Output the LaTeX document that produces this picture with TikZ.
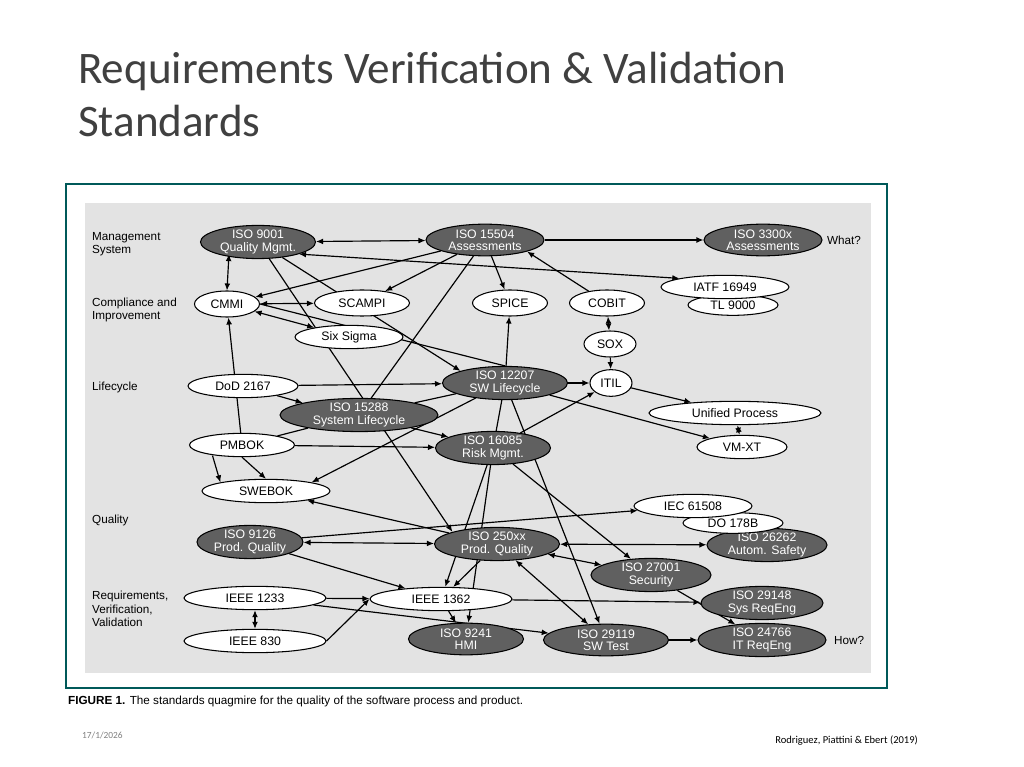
\documentclass[tikz,border=0pt]{standalone}
\usepackage{fontspec}
\setmainfont{Carlito}
\newfontfamily\arialf{Liberation Sans}
\usetikzlibrary{shapes.geometric,arrows.meta,backgrounds}
\begin{document}
\begin{tikzpicture}[x=0.03cm,y=-0.03cm,
 std/.style={ellipse,draw=black,line width=0.9pt,inner sep=0pt,font=\arialf\fontsize{10.5}{10.5}\selectfont,align=center,text=black},
 wd/.style={minimum width=#1*0.03cm},
 wn/.style={std,fill=white,minimum height=0.7cm},
 dn/.style={std,fill=gray!75!black,minimum height=0.95cm,text=white},
 ed/.style={line width=1pt,-{Latex[length=6pt,width=5pt]}},
 bd/.style={line width=1pt,{Latex[length=6pt,width=5pt]}-{Latex[length=6pt,width=5pt]}},
 pl/.style={line width=1pt},
 lab/.style={font=\arialf\fontsize{10}{11.5}\selectfont,align=left,anchor=west}]
\useasboundingbox (0,0) rectangle (1024,767);
\node[anchor=north west,font=\fontsize{38.5}{45}\selectfont,text=black!75,align=left] (title) at (74,48) {Requirements Verification \& Validation\\Standards};
\node[anchor=west,font=\arialf\fontsize{10}{11}\selectfont] (cap) at (64,701) {\textbf{FIGURE 1.} The standards quagmire for the quality of the software process and product.};
\node[anchor=west,font=\fontsize{8}{9}\selectfont,text=gray] (date) at (78,735) {17/1/2026};
\node[anchor=east,font=\fontsize{9}{10}\selectfont] (ref) at (922,741) {Rodriguez, Piattini \& Ebert (2019)};
\node[lab] (l1) at (88,244) {Management\\System};
\node[lab] (l2) at (88,310) {Compliance and\\Improvement};
\node[lab] (l3) at (88,387) {Lifecycle};
\node[lab] (l4) at (88,520) {Quality};
\node[lab] (l5) at (88,609) {Requirements,\\Verification,\\Validation};
\node[lab] (what) at (823,240) {What?};
\node[lab] (how) at (830,640) {How?};
% nodes
\node[dn,wd=115] (a9001) at (258,242) {ISO 9001\\Quality Mgmt.};
\node[dn,wd=118] (a15504) at (485,240) {ISO 15504\\Assessments};
\node[dn,wd=118] (a3300) at (763,240) {ISO 3300x\\Assessments};
\node[wn,wd=90,minimum height=0.62cm] (tl) at (733,305) {TL 9000};
\node[wn,wd=128] (iatf) at (725,287) {IATF 16949};
\node[wn,wd=65,minimum height=0.78cm] (cmmi) at (227,304) {CMMI};
\node[wn,wd=95,minimum height=0.78cm] (scampi) at (362,303) {SCAMPI};
\node[wn,wd=75,minimum height=0.78cm] (spice) at (510,303) {SPICE};
\node[wn,wd=75,minimum height=0.78cm] (cobit) at (607,303) {COBIT};
\node[wn,wd=108] (six) at (349,337) {Six Sigma};
\node[wn,wd=52,minimum height=0.78cm] (sox) at (610,344) {SOX};
\node[wn,wd=42,minimum height=0.8cm] (itil) at (611,383) {ITIL};
\node[wn,wd=110] (dod) at (243,386) {DoD 2167};
\node[dn,wd=125] (a12207) at (505,383) {ISO 12207\\SW Lifecycle};
\node[dn,wd=158,minimum height=0.8cm] (a15288) at (359,415) {ISO 15288\\System Lifecycle};
\node[wn,wd=172] (up) at (735,413) {Unified Process};
\node[wn,wd=90] (vm) at (742,447) {VM-XT};
\node[wn,wd=105] (pmbok) at (242,445) {PMBOK};
\node[dn,wd=115] (a16085) at (493,448) {ISO 16085\\Risk Mgmt.};
\node[wn,wd=128] (swebok) at (266,491) {SWEBOK};
\node[dn,wd=120] (a26262) at (767,545) {ISO 26262\\Autom. Safety};
\node[wn,wd=100,minimum height=0.62cm] (do) at (733,523) {DO 178B};
\node[wn,wd=118] (iec) at (693,506) {IEC 61508};
\node[dn,wd=106] (a9126) at (250,542) {ISO 9126\\Prod. Quality};
\node[dn,wd=125] (a250) at (497,544) {ISO 250xx\\Prod. Quality};
\node[dn,wd=120] (a27001) at (651,575) {ISO 27001\\Security};
\node[wn,wd=142] (i1233) at (255,598) {IEEE 1233};
\node[wn,wd=142] (i1362) at (441,599) {IEEE 1362};
\node[dn,wd=122] (a29148) at (762,603) {ISO 29148\\Sys ReqEng};
\node[wn,wd=142] (i830) at (255,641) {IEEE 830};
\node[dn,wd=115] (a9241) at (466,639) {ISO 9241\\HMI};
\node[dn,wd=125] (a29119) at (606,640) {ISO 29119\\SW Test};
\node[dn,wd=128] (a24766) at (762,640) {ISO 24766\\IT ReqEng};
\begin{pgfonlayer}{background}
\fill[white] (0,0) rectangle (1024,767);
\draw[draw=teal!70!black,line width=1pt] (66,184) rectangle (887,688);
\fill[gray!22] (85,203) rectangle (871,673);
\draw[bd] (a9001) -- (a15504);
\draw[ed] (a15504) -- (a3300);
\draw[bd] (a9001.south west) ++(12,0) -- (cmmi.north);
\draw[bd] (a9001.south east) -- (iatf.north west);
\draw[ed] (a15504) -- (cmmi);
\draw[ed] (a15504) -- (scampi);
\draw[ed] (a15504) -- (spice);
\draw[ed] (cobit) -- (a15504.south east);
\draw[pl] (a15504) -- (a15288);
\draw[bd] (cmmi) -- (scampi);
\draw[bd] (cmmi) -- (six);
\draw[pl] (cmmi.east) -- (a12207.north);
\draw[ed] (a9001) -- (a12207.north west);
\draw[ed] (a9001) -- (a250.north west);
\draw[ed] (pmbok) -- (cmmi);
\draw[ed] (dod) -- (a12207);
\draw[ed] (dod) -- (a15288.north west);
\draw[pl] (a15288) -- (a12207);
\draw[ed] (a15288) -- (a16085);
\draw[pl] (pmbok) -- (a15288);
\draw[ed] (pmbok) -- (a16085);
\draw[ed] (pmbok.south west) ++(8,2) -- (swebok.north west);
\draw[ed] (pmbok.south) -- (swebok.north);
\draw[ed] (a12207) -- (swebok.north east);
\draw[ed] (a12207) -- (spice);
\draw[ed] (a12207) -- (itil);
\draw[ed] (a12207) -- (vm);
\draw[pl] (a12207) -- (a16085);
\draw[ed] (a12207) -- (a29119);
\draw[ed] (a16085) -- (itil);
\draw[bd] (cobit) -- (sox);
\draw[ed] (sox) -- (itil);
\draw[ed] (itil) -- (up);
\draw[bd] (up) -- (vm);
\draw[ed] (a16085) -- (i1362);
\draw[ed] (a16085) -- (a9241);
\draw[ed] (a16085) -- (a27001);
\draw[ed] (a250) -- (swebok);
\draw[bd] (a9126) -- (a250);
\draw[ed] (a9126) -- (iec);
\draw[ed] (a9126) -- (i1362);
\draw[bd] (a250) -- (a26262);
\draw[bd] (a250) -- (a27001);
\draw[bd] (a250) -- (a29119);
\draw[ed] (a250) -- (i1362);
\draw[ed] (a27001) -- (a24766);
\draw[ed] (i1233) -- (i1362);
\draw[bd] (i1233) -- (i830);
\draw[ed] (i830.east) -- (i1362.west);
\draw[ed] (i1233) -- (a29119);
\draw[ed] (i1362) -- (a29148);
\draw[ed] (i1362) -- (a9241);
\draw[ed] (a29119) -- (a24766);
\end{pgfonlayer}
\end{tikzpicture}
\end{document}
